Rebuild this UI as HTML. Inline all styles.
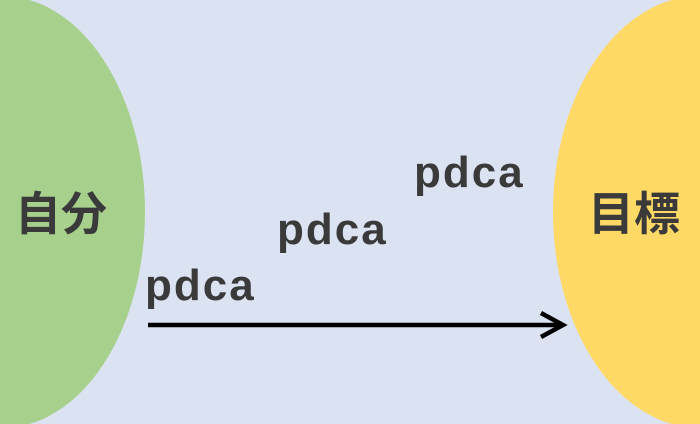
<!DOCTYPE html>
<html><head><style>
body{margin:0;width:700px;height:424px;overflow:hidden;background:#dbe3f3;position:relative;font-family:"Liberation Sans","Noto Sans CJK JP",sans-serif;}
.t{position:absolute;font-weight:bold;color:#3a3a3a;font-size:44px;line-height:1;letter-spacing:2px;}
.k{position:absolute;font-weight:bold;color:#3a3a3a;font-size:46px;line-height:1;font-family:'Noto Sans CJK JP',sans-serif;}
</style></head><body>
<svg width="700" height="424" style="position:absolute;left:0;top:0">
<ellipse cx="2" cy="212" rx="143" ry="216" fill="#a8d08d"/>
<ellipse cx="700" cy="212" rx="147" ry="216" fill="#ffd966"/>
<line x1="148" y1="325" x2="562" y2="325" stroke="#000" stroke-width="4.5"/>
<polyline points="541,313 563,325 541,337" fill="none" stroke="#000" stroke-width="4.5" stroke-linejoin="miter"/>
</svg>
<div class="k" style="left:15px;top:188px;">自分</div>
<div class="k" style="left:588px;top:188px;">目標</div>
<div class="t" style="left:145px;top:264px;">pdca</div>
<div class="t" style="left:277px;top:208px;">pdca</div>
<div class="t" style="left:414px;top:151px;">pdca</div>
</body></html>
